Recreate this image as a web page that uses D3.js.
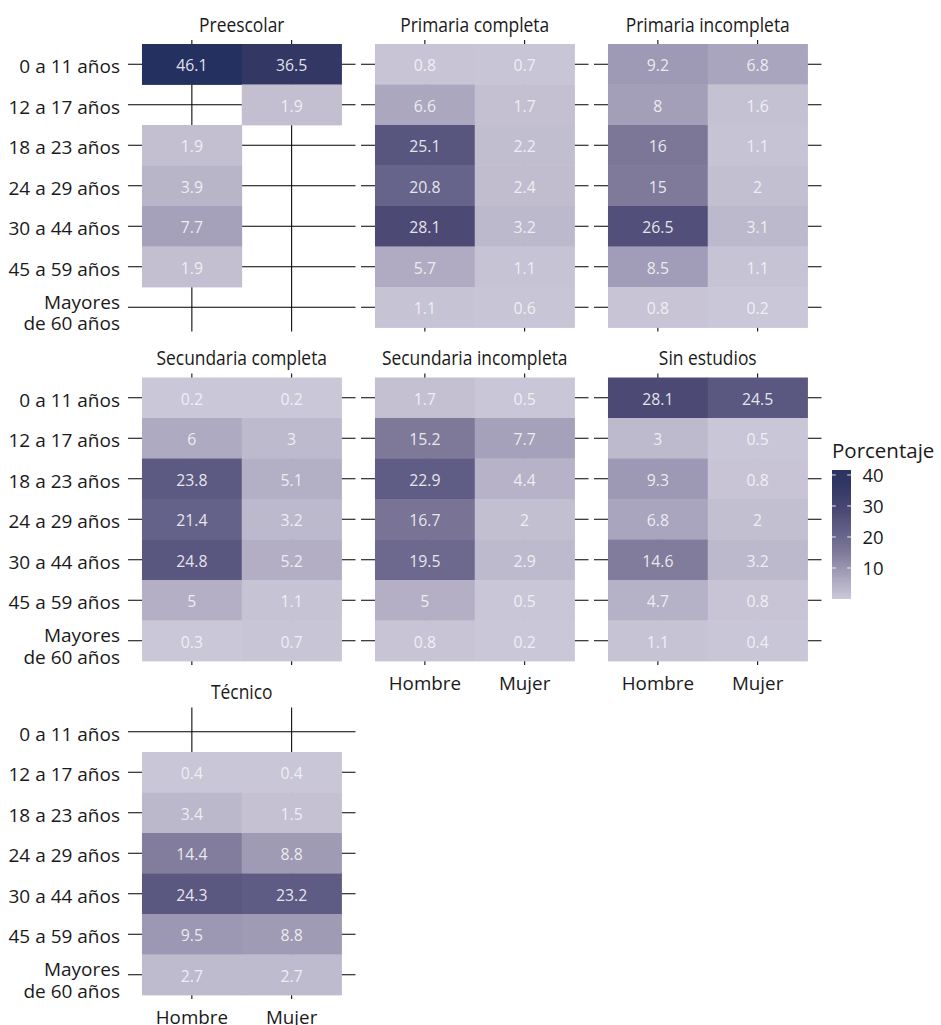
<!DOCTYPE html>
<html>
<head>
<meta charset="utf-8">
<script src="https://cdn.jsdelivr.net/npm/d3@7"></script>
<style>
  html, body { margin: 0; padding: 0; background: #ffffff; }
  svg { display: block; }
  text { font-family: "Open Sans", "Noto Sans", sans-serif; }
</style>
</head>
<body>
<svg id="chart" width="941" height="1025"></svg>
<script>
// Age groups (rows), sexes (columns) and education levels (facets)
const ages = ["0 a 11 años", "12 a 17 años", "18 a 23 años", "24 a 29 años",
              "30 a 44 años", "45 a 59 años", "Mayores de 60 años"];
const sexes = ["Hombre", "Mujer"];
const levels = ["Preescolar", "Primaria completa", "Primaria incompleta",
                "Secundaria completa", "Secundaria incompleta", "Sin estudios", "Técnico"];

// Percentages per level, one entry per age group (null = no observation)
const hombre = [
  [46.1, null, 1.9, 3.9, 7.7, 1.9, null],
  [0.8, 6.6, 25.1, 20.8, 28.1, 5.7, 1.1],
  [9.2, 8, 16, 15, 26.5, 8.5, 0.8],
  [0.2, 6, 23.8, 21.4, 24.8, 5, 0.3],
  [1.7, 15.2, 22.9, 16.7, 19.5, 5, 0.8],
  [28.1, 3, 9.3, 6.8, 14.6, 4.7, 1.1],
  [null, 0.4, 3.4, 14.4, 24.3, 9.5, 2.7]
];
const mujer = [
  [36.5, 1.9, null, null, null, null, null],
  [0.7, 1.7, 2.2, 2.4, 3.2, 1.1, 0.6],
  [6.8, 1.6, 1.1, 2, 3.1, 1.1, 0.2],
  [0.2, 3, 5.1, 3.2, 5.2, 1.1, 0.7],
  [0.5, 7.7, 4.4, 2, 2.9, 0.5, 0.2],
  [24.5, 0.5, 0.8, 2, 3.2, 0.8, 0.4],
  [null, 0.4, 1.5, 8.8, 23.2, 8.8, 2.7]
];
const legendTicks = [10, 20, 30, 40];

// Fill colour ramp (value -> colour stops)
const colorStops = [0, 3, 8, 15, 21, 25, 28, 36.5, 46.1];
const colorRange = ["#cbc8d9", "#bebacd", "#a49fb9", "#807a9a", "#66638a",
                    "#58567f", "#4c4a75", "#323764", "#243060"];
const fill = d3.scaleLinear().domain(colorStops).range(colorRange)
  .interpolate(d3.interpolateRgb).clamp(true);

const svg = d3.select("#chart");
const INK = "#1a1a1a";

// Facet geometry
const colLeft = [132, 365, 598];
const rowTop = [44, 377.5, 711.5];
const panelW = 219.5, panelH = 283.5, tick = 4;
const nCols = 3;

// Flatten data into cells
const cells = [];
levels.forEach((lvl, k) => {
  ages.forEach((age, i) => {
    [hombre[k][i], mujer[k][i]].forEach((v, s) => {
      if (v !== null) cells.push({ level: lvl, k, age, sex: sexes[s], value: v });
    });
  });
});

// Which panel in each column is lowest (gets x labels)
const lowestInCol = {};
levels.forEach((lvl, k) => { lowestInCol[k % nCols] = k; });

levels.forEach((lvl, k) => {
  const col = k % nCols, row = Math.floor(k / nCols);
  const left = colLeft[col], top = rowTop[row];
  const unit = panelW / 2.2;   // discrete x expansion of 0.6 on each side
  const x = d3.scaleBand().domain(sexes).range([left + 0.1 * unit, left + panelW - 0.1 * unit]);
  const y = d3.scaleBand().domain(ages).range([top, top + panelH]);
  const g = svg.append("g");

  // Grid lines + ticks on all sides (one long tick per category)
  g.append("g")
    .attr("transform", `translate(${left - tick},0)`)
    .call(d3.axisLeft(y).tickSize(-(panelW + 2 * tick)).tickFormat(""))
    .call(a => a.select(".domain").remove())
    .call(a => a.selectAll("line").attr("x1", 0).attr("stroke", "#000").attr("stroke-width", 1.05));
  g.append("g")
    .attr("transform", `translate(0,${top - tick})`)
    .call(d3.axisTop(x).tickSize(-(panelH + 2 * tick)).tickFormat(""))
    .call(a => a.select(".domain").remove())
    .call(a => a.selectAll("line").attr("y1", 0).attr("stroke", "#000").attr("stroke-width", 1.05));

  // Tiles
  const pc = cells.filter(c => c.k === k);
  g.selectAll("rect.tile").data(pc).join("rect")
    .attr("class", "tile")
    .attr("x", d => x(d.sex)).attr("y", d => y(d.age))
    .attr("width", x.bandwidth() + 0.4).attr("height", y.bandwidth() + 0.4)
    .attr("fill", d => fill(d.value));

  // Value labels
  g.selectAll("text.val").data(pc).join("text")
    .attr("class", "val")
    .attr("x", d => x(d.sex) + x.bandwidth() / 2)
    .attr("y", d => y(d.age) + y.bandwidth() / 2 + 7)
    .attr("text-anchor", "middle")
    .attr("font-size", 15.8)
    .attr("fill", "#f4f4f6")
    .attr("fill-opacity", 0.92)
    .text(d => d3.format("~")(d.value));

  // Facet title
  const cx = left + panelW / 2;
  svg.append("text")
    .attr("transform", `translate(${cx},${top - 12.4}) scale(0.87,1)`)
    .attr("text-anchor", "middle")
    .attr("font-size", 20)
    .attr("fill", INK)
    .text(lvl);

  // Row labels on the first column only
  if (col === 0) {
    ages.forEach(age => {
      const cy = y(age) + y.bandwidth() / 2;
      const t = svg.append("text")
        .attr("text-anchor", "end")
        .attr("font-size", 19)
        .attr("fill", INK);
      if (age.startsWith("Mayores")) {
        t.append("tspan").attr("x", 120).attr("y", cy + 1.3).text("Mayores");
        t.append("tspan").attr("x", 120).attr("y", cy + 23).text("de 60 años");
      } else {
        t.attr("x", 120).attr("y", cy + 8.8).text(age);
      }
    });
  }

  // Column labels under the lowest panel of each column
  if (lowestInCol[col] === k) {
    sexes.forEach(s => {
      svg.append("text")
        .attr("x", x(s) + x.bandwidth() / 2)
        .attr("y", top + panelH + 29)
        .attr("text-anchor", "middle")
        .attr("font-size", 18.8)
        .attr("fill", INK)
        .text(s);
    });
  }
});

// Colour bar legend
const legX = 832, legW = 19;
const legScale = d3.scaleLinear().domain([0, 41.6]).range([599, 470]);
const defs = svg.append("defs");
const grad = defs.append("linearGradient")
  .attr("id", "legendGrad").attr("x1", 0).attr("x2", 0).attr("y1", 1).attr("y2", 0);
d3.range(0, 41.61, 41.6 / 40).forEach(v => {
  grad.append("stop").attr("offset", v / 41.6).attr("stop-color", fill(v));
});
svg.append("text")
  .attr("x", legX).attr("y", 458)
  .attr("font-size", 20.5).attr("fill", INK)
  .text("Porcentaje");
svg.append("rect")
  .attr("x", legX).attr("y", legScale(41.6))
  .attr("width", legW).attr("height", legScale(0) - legScale(41.6))
  .attr("fill", "url(#legendGrad)");
const lt = svg.append("g");
legendTicks.forEach(v => {
  const ty = legScale(v);
  lt.append("line").attr("x1", legX).attr("x2", legX + legW / 5).attr("y1", ty).attr("y2", ty)
    .attr("stroke", "#ffffff").attr("stroke-opacity", 0.85).attr("stroke-width", 1);
  lt.append("line").attr("x1", legX + legW * 4 / 5).attr("x2", legX + legW).attr("y1", ty).attr("y2", ty)
    .attr("stroke", "#ffffff").attr("stroke-opacity", 0.85).attr("stroke-width", 1);
  lt.append("text").attr("x", 862.5).attr("y", ty + 6.6)
    .attr("font-size", 18.5).attr("fill", INK).text(v);
});
</script>
</body>
</html>
